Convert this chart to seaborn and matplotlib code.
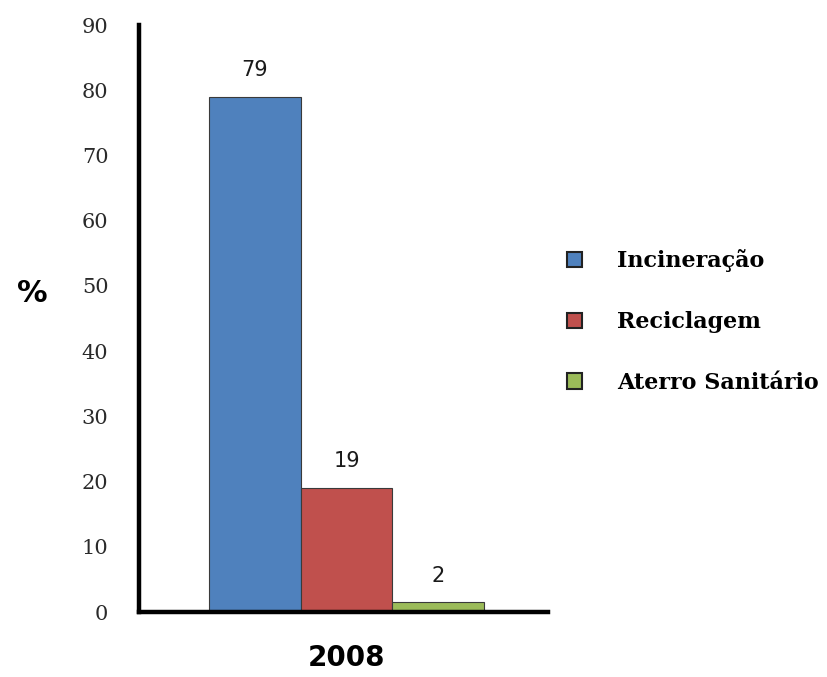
import matplotlib
matplotlib.use("Agg")
import matplotlib.pyplot as plt
import seaborn as sns
import pandas as pd
from matplotlib.patches import Patch

years = ["2008"]
categories = ["Incineração", "Reciclagem", "Aterro Sanitário"]
values = [79, 19, 1.5]
value_labels = ["79", "19", "2"]
colors = ["#4F81BD", "#C0504D", "#9BBB59"]
yticks = [0, 10, 20, 30, 40, 50, 60, 70, 80, 90]

df = pd.DataFrame({"ano": years * len(categories), "tipo": categories, "valor": values})

sns.set_style("white")
fig = plt.figure(figsize=(8.27, 6.77), dpi=100)
ax = fig.add_axes([0.168, 0.096, 0.495, 0.867])

sns.barplot(data=df, x="ano", y="valor", hue="tipo", hue_order=categories,
            palette=colors, width=0.8, edgecolor="#3a3a3a", linewidth=0.8,
            legend=False, ax=ax, saturation=1)

for cont, lab in zip(ax.containers, value_labels):
    ax.bar_label(cont, labels=[lab], padding=12, fontsize=15,
                 family="DejaVu Sans", color="#1a1a1a")

ax.set_xlim(-0.603, 0.586)
ax.set_ylim(0, 90)
ax.set_yticks(yticks)
ax.set_yticklabels([str(t) for t in yticks], family="DejaVu Serif",
                   fontsize=15, color="#2a2a2a")
ax.tick_params(axis="y", length=0, pad=22)
ax.tick_params(axis="x", length=0, pad=23)
ax.set_xticks([0])
ax.set_xticklabels(years, family="DejaVu Sans", fontweight="bold", fontsize=20,
                   color="black")
ax.set_xlabel("")
ax.set_ylabel("")
for s in ["top", "right"]:
    ax.spines[s].set_visible(False)
for s in ["left", "bottom"]:
    ax.spines[s].set_linewidth(3.2)
    ax.spines[s].set_color("black")

fig.text(0.039, 0.566, "%", family="DejaVu Sans", fontweight="bold", fontsize=22,
         ha="center", va="center", color="black")

handles = [Patch(facecolor=c, edgecolor="#222222", linewidth=1.5) for c in colors]
leg = fig.legend(handles, categories, loc="center left",
                 bbox_to_anchor=(0.661, 0.525), frameon=False,
                 prop={"family": "DejaVu Serif", "weight": "bold", "size": 16},
                 handlelength=0.7, handleheight=0.7, handletextpad=1.55,
                 labelspacing=1.75)
for t in leg.get_texts():
    t.set_color("black")

fig.savefig("out.png", dpi=100)
